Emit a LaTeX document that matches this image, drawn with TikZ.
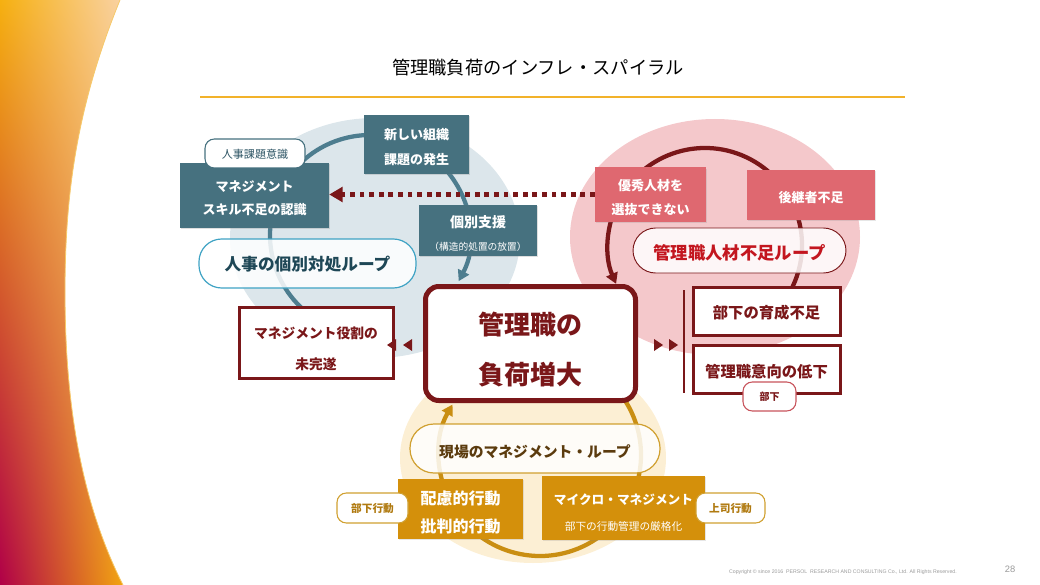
\documentclass[tikz,border=0pt]{standalone}
\usepackage{fontspec}
\setmainfont{Noto Sans CJK JP}
\newfontfamily\footfont{Liberation Sans}
\usetikzlibrary{arrows.meta,shadows,shadings,calc}
\definecolor{slate}{HTML}{46717F}
\definecolor{slatearc}{HTML}{4D7D8F}
\definecolor{slatetext}{HTML}{2E5565}
\definecolor{bgblue}{HTML}{DCE6EB}
\definecolor{teal}{HTML}{3FA3C4}
\definecolor{tealtext}{HTML}{1E4756}
\definecolor{bgpink}{HTML}{F4C8CB}
\definecolor{salmon}{HTML}{DF6870}
\definecolor{dred}{HTML}{7A1719}
\definecolor{rtext}{HTML}{C3161F}
\definecolor{pinkline}{HTML}{C8545C}
\definecolor{bgcream}{HTML}{FCEFD4}
\definecolor{goldbox}{HTML}{D4900B}
\definecolor{goldarc}{HTML}{C98E12}
\definecolor{goldline}{HTML}{D0A030}
\definecolor{goldtext}{HTML}{B07A10}
\definecolor{brown}{HTML}{5B3B0E}
\definecolor{tline}{HTML}{F2B22A}
\definecolor{gUL}{HTML}{F6B010}
\definecolor{gUR}{HTML}{F9D2A4}
\definecolor{gLL}{HTML}{B00048}
\definecolor{gLR}{HTML}{F2A410}
\definecolor{footgrey}{HTML}{9A9A9A}
\newcommand\fsz[2]{\fontsize{#1pt}{#2pt}\selectfont}
% lowered multi-line text (keeps the reported extents)
\newcommand\tx[2][2.25pt]{\raisebox{-#1}[\height][\depth]{\begin{tabular}{@{}c@{}}#2\end{tabular}}}
% lowered single-line text
\newcommand\ty[2][1.5pt]{\raisebox{-#1}[\height][\depth]{#2}}
\begin{document}
\begin{tikzpicture}[x=0.75pt,y=-0.75pt,
  sz/.style 2 args={minimum width=#1*0.75pt, minimum height=#2*0.75pt},
  base/.style={inner sep=0pt, align=center},
  slatebox/.style={base, fill=slate, text=white, font=\fsz{9.75}{18}\bfseries,
     drop shadow={shadow xshift=1pt, shadow yshift=-1pt, opacity=0.25}},
  salmonbox/.style={base, fill=salmon, text=white, font=\fsz{9.75}{18}\bfseries,
     drop shadow={shadow xshift=1pt, shadow yshift=-1pt, opacity=0.2}},
  goldbox/.style={base, fill=goldbox, text=white, font=\fsz{12}{21}\bfseries,
     drop shadow={shadow xshift=1pt, shadow yshift=-1pt, opacity=0.2}},
  redbox/.style={base, fill=white, draw=dred, line width=2.25pt, text=dred,
     font=\fsz{10.3}{23}\bfseries,
     drop shadow={shadow xshift=1pt, shadow yshift=-1pt, opacity=0.2}},
  tag/.style={base, fill=white, rounded corners=7pt, line width=0.8pt},
  looppill/.style={base, rounded corners=17pt, line width=0.9pt, fill opacity=0.85, text opacity=1},
  loopline/.style={line width=3.2pt, -{Triangle[length=8pt,width=9pt]}},
]
\useasboundingbox (0,0) rectangle (1040,585);
% left decorative band
\shade[upper left=gUL, upper right=gUR, lower left=gLL, lower right=gLR]
  (0,0) -- (120,0) .. controls (75,110) and (65,200) .. (65,292)
  .. controls (65,400) and (80,500) .. (123,585) -- (0,585) -- cycle;
\draw[tline!70, line width=0.6pt] (120,0) .. controls (75,110) and (65,200) .. (65,292)
  .. controls (65,400) and (80,500) .. (123,585);
% title
\node[font=\fsz{13.7}{16}, text=black] (title) at (538,68) {管理職負荷のインフレ・スパイラル};
\coordinate (tl1) at (200,97);
\coordinate (tl2) at (905,97);
\draw[tline, line width=1.2pt] (tl1) -- (tl2);
% background circles
\fill[bgblue] (375,238) ellipse [x radius=145, y radius=120];
\fill[bgpink] (715,237) ellipse [x radius=145, y radius=118];
\fill[bgcream] (533,458) ellipse [x radius=133, y radius=105];
% loop arcs
\coordinate (cB) at (370,235);
\coordinate (cR) at (705,245);
\coordinate (cG) at (540,455);
\draw[loopline, slatearc] ($(cB)+(125:100)$) arc[start angle=125, end angle=387.5, radius=100];
\draw[loopline, dred] ($(cR)+(28:97)$) arc[start angle=28, end angle=-203.6, radius=97];
\draw[loopline, goldarc] ($(cG)+(-34:101)$) arc[start angle=-34, end angle=210, radius=101];
% HR loop (left)
\node[slatebox, sz={149}{65}, font=\fsz{9.75}{17.5}\bfseries] (skill) at (254.5,195.5) {\tx{マネジメント\\スキル不足の認識}};
\node[tag, draw=slate, text=slatetext, font=\fsz{8.3}{10}, sz={100}{29}] (kadai) at (255,153.5) {\ty[0.8pt]{人事課題意識}};
\node[slatebox, sz={105}{59}, font=\fsz{9.75}{18.75}\bfseries] (neworg) at (416.5,144.5) {\tx{新しい組織\\課題の発生}};
\node[slatebox, sz={118}{51}, font=\fsz{10.5}{17.25}\bfseries] (kobetsu) at (478,230.5)
  {\tx[3pt]{個別支援\\{\fsz{7.3}{9}\mdseries （構造的処置の放置）}}};
\node[looppill, fill=white, draw=teal, text=tealtext, font=\fsz{12.5}{15}\bfseries, sz={217}{49}] (hrloop) at (307.5,263.5) {\ty[0.4pt]{人事の個別対処ループ}};
\node[redbox, sz={154}{71}] (role) at (316,342.5) {\tx[4pt]{マネジメント役割の\\未完遂}};
% manager shortage loop (right)
\node[salmonbox, sz={111}{54}] (yushu) at (650.5,194.5) {\tx{優秀人材を\\選抜できない}};
\node[salmonbox, sz={128}{50}] (koukei) at (811,195) {\ty[2.25pt]{後継者不足}};
\node[looppill, fill=white, draw=dred, line width=0.7pt, text=rtext, font=\fsz{13}{15}\bfseries, sz={213}{45}] (mgrloop) at (739.5,250.5) {\ty[1.5pt]{管理職人材不足ループ}};
\node[redbox, sz={147}{48}, font=\fsz{11.5}{14}\bfseries] (ikusei) at (766.5,311) {\ty[1.5pt]{部下の育成不足}};
\node[redbox, sz={147}{48}, font=\fsz{11.5}{14}\bfseries] (iko) at (766.5,369) {\ty[2.25pt]{管理職意向の低下}};
\node[tag, draw=pinkline, text=dred, font=\fsz{7.5}{9}\bfseries, sz={53}{29}] (buka) at (769.5,396.5) {\ty[0.5pt]{部下}};
\coordinate (bar1) at (684,290);
\coordinate (bar2) at (684,393);
\draw[dred, line width=2.2pt] (bar1) -- (bar2);
% field management loop (bottom)
\node[looppill, fill=white, draw=goldline, text=brown, font=\fsz{11.1}{13}\bfseries, sz={250}{49}, rounded corners=18pt] (genba) at (535,448.5) {\ty[2.25pt]{現場のマネジメント・ループ}};
\node[goldbox, sz={125}{60}] (hairyo) at (460.5,509) {\tx[3pt]{配慮的行動\\批判的行動}};
\node[goldbox, sz={163}{64}, font=\fsz{9.5}{19.5}\bfseries] (micro) at (623.5,508)
  {\tx[3.5pt]{マイクロ・マネジメント\\{\fsz{8}{9}\mdseries 部下の行動管理の厳格化}}};
\node[tag, draw=goldline, text=goldtext, font=\fsz{8}{10}\bfseries, sz={71}{30}] (bukakodo) at (372.5,508) {\ty[0.5pt]{部下行動}};
\node[tag, draw=goldline, text=goldtext, font=\fsz{8}{10}\bfseries, sz={69}{30}] (joshi) at (730.5,508) {\ty[0.5pt]{上司行動}};
% central box
\node[base, fill=white, draw=dred, line width=3.75pt, rounded corners=10pt, text=dred,
  font=\fsz{19.5}{37.5}\bfseries, sz={210}{114},
  drop shadow={shadow xshift=1.5pt, shadow yshift=-1.5pt, opacity=0.35}] (main) at (530.5,343.5) {\tx[4.5pt]{管理職の\\負荷増大}};
% dotted arrow
\draw[dred, line width=3.6pt, dash pattern=on 3.6pt off 3.6pt,
  -{Triangle[length=10pt,width=11pt]}] (yushu.west) -- (skill.east |- yushu.west);
% small triangles
\fill[dred] (387,345) -- (396,339) -- (396,351) -- cycle;
\fill[dred] (403,345) -- (412,339) -- (412,351) -- cycle;
\fill[dred] (654,339) -- (663,345) -- (654,351) -- cycle;
\fill[dred] (669,339) -- (678,345) -- (669,351) -- cycle;
% footer
\node[font=\footfont\fsz{3.9}{5}, text=footgrey] (copy) at (843,572) {Copyright \textcopyright{} since 2016\ \ PERSOL\ \ RESEARCH AND CONSULTING Co., Ltd. All Rights Reserved.};
\node[font=\footfont\fsz{7}{8}, text=footgrey] (page) at (1010,569) {28};
\end{tikzpicture}
\end{document}
